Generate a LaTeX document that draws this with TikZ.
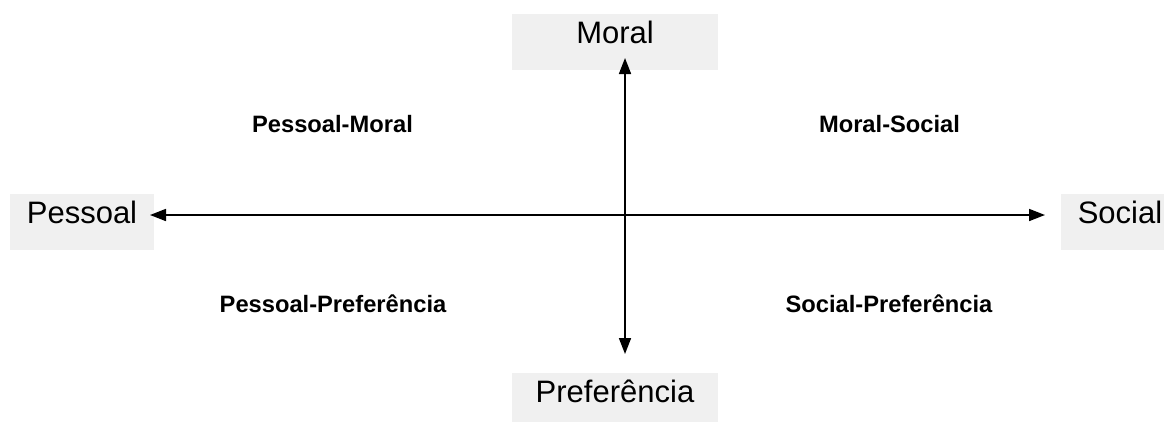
\documentclass[tikz,border=0pt]{standalone}
\usepackage{fontspec}
\setmainfont{Liberation Sans}
\usetikzlibrary{arrows.meta}
\definecolor{boxgray}{HTML}{F0F0F0}
\tikzset{
  axisbox/.style={fill=boxgray, draw=none, inner sep=0pt, text height=29pt, text depth=27pt,
    minimum height=56pt, anchor=base, font=\fontsize{31}{36}\selectfont},
  quadlabel/.style={inner sep=0pt, anchor=base, font=\fontsize{23.7}{28}\selectfont\bfseries},
  axisarrow/.style={line width=1.7pt, -{Triangle[length=16pt,width=12pt]}}
}
\begin{document}
\begin{tikzpicture}[x=1pt,y=-1pt]
\useasboundingbox (0,0) rectangle (1164,421);
% axis labels
\node[axisbox, minimum width=206pt] (moral) at (615,43) {Moral};
\node[axisbox, minimum width=206pt] (pref) at (615,402) {Preferência};
\node[axisbox, minimum width=144pt] (pessoal) at (82,223) {Pessoal};
\node[axisbox, minimum width=118pt] (social) at (1120,223) {Social};
% quadrant labels
\node[quadlabel] (pm) at (332.5,132) {Pessoal-Moral};
\node[quadlabel] (ms) at (889.5,132) {Moral-Social};
\node[quadlabel] (pp) at (333,312) {Pessoal-Preferência};
\node[quadlabel] (sp) at (889,312) {Social-Preferência};
% axes
\coordinate (o) at (625,215);
\coordinate (tipU) at (625,58);
\coordinate (tipD) at (625,354);
\coordinate (tipL) at (150,215);
\coordinate (tipR) at (1045,215);
\draw[axisarrow] (o) -- (tipU);
\draw[axisarrow] (o) -- (tipD);
\draw[axisarrow] (o) -- (tipL);
\draw[axisarrow] (o) -- (tipR);
\end{tikzpicture}
\end{document}
